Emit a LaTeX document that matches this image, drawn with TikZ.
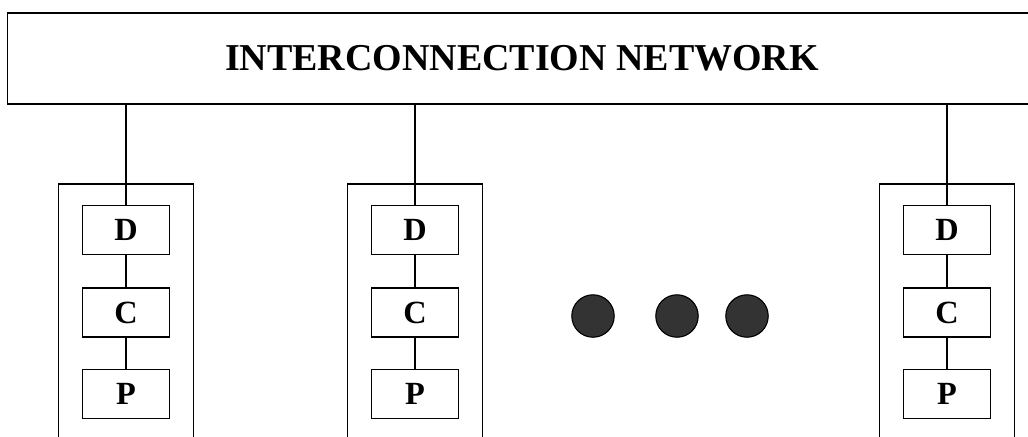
\documentclass[tikz,border=0pt]{standalone}
\usepackage{fontspec}
\setmainfont{Liberation Serif}
\begin{document}
\begin{tikzpicture}[x=0.025cm,y=-0.025cm,line width=0.8pt,
  netbox/.style={draw, rectangle, minimum width=25.7cm, minimum height=2.275cm, font=\fontsize{27}{32}\selectfont\bfseries},
  unitbox/.style={draw, rectangle, minimum width=2.175cm, minimum height=1.225cm, font=\fontsize{23}{27}\selectfont\bfseries}]
\useasboundingbox (0,0) rectangle (1028,436);
\node[netbox] (net) at (522,58.5) {INTERCONNECTION NETWORK};
\foreach \n/\x in {1/126,2/415,3/947} {
\draw (\x-67.5,440) -- (\x-67.5,184) -- (\x+67.5,184) -- (\x+67.5,440);
\node[unitbox] (d\n) at (\x,230) {D};
\node[unitbox] (c\n) at (\x,312.5) {C};
\node[unitbox] (p\n) at (\x,394) {P};
\draw (net.south -| d\n.north) -- (d\n.north);
\draw (d\n) -- (c\n);
\draw (c\n) -- (p\n);
}
\foreach \x in {593,677,747} \filldraw[fill=black!80, draw=black] (\x,316) circle (0.53cm);
\end{tikzpicture}
\end{document}
